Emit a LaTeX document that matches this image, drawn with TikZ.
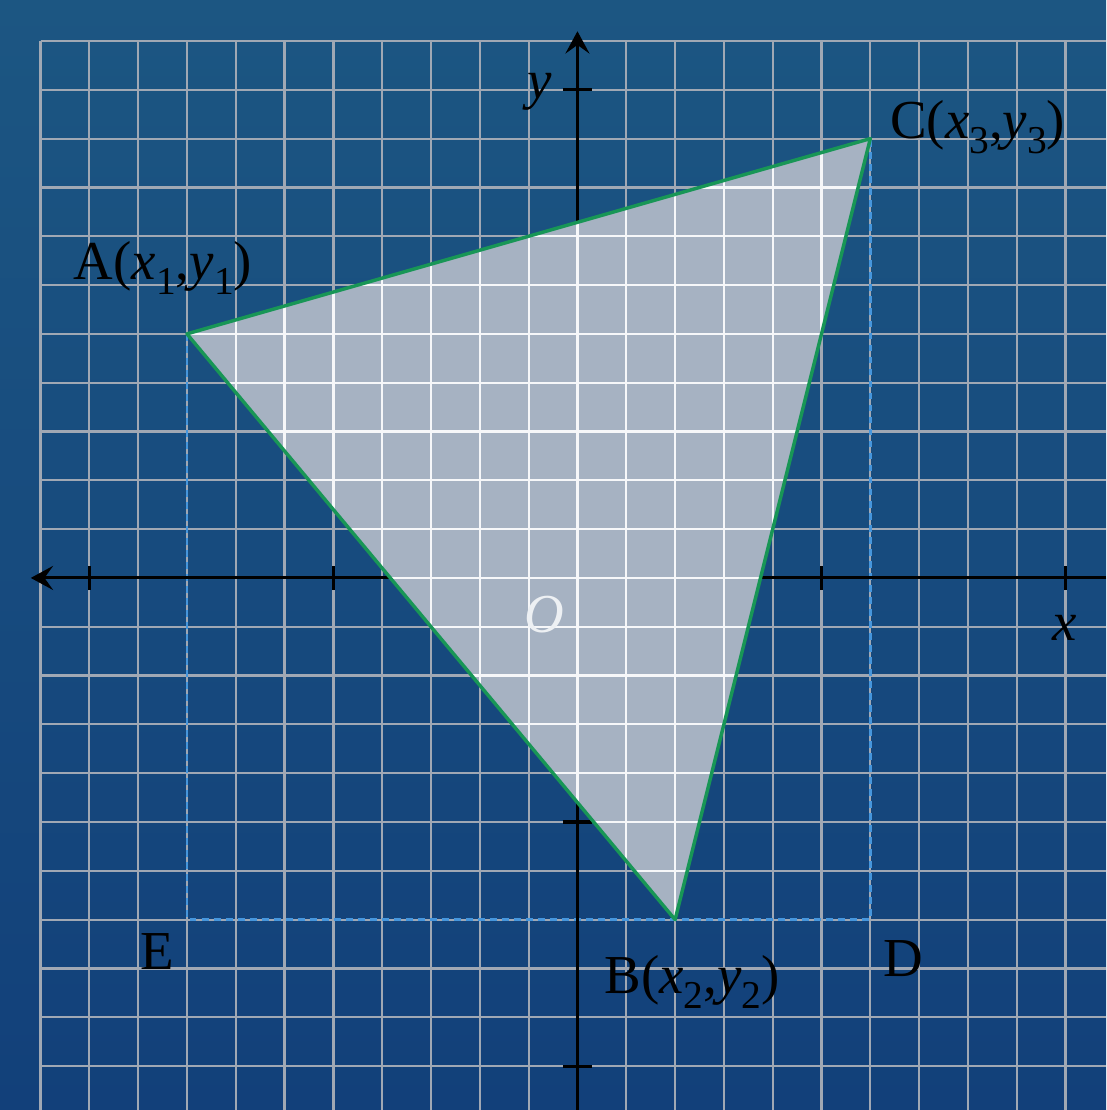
\documentclass[tikz,border=0pt]{standalone}
\usepackage{fontspec}
\setmainfont{Liberation Serif}
\usetikzlibrary{arrows.meta}

\definecolor{BoardBlueTop}{RGB}{28,86,130}
\definecolor{BoardBlueBottom}{RGB}{18,64,122}
\definecolor{GridGrey}{RGB}{160,168,180}
\definecolor{PaneGrey}{RGB}{166,178,194}
\definecolor{EdgeGreen}{RGB}{24,150,86}
\definecolor{GuideBlue}{RGB}{70,150,220}

% lowered subscript as printed on the board
\newcommand{\lowsub}[1]{\raisebox{-4.5pt}{\fontsize{11.5}{12}\selectfont #1}}

\begin{document}
\begin{tikzpicture}[x=0.5cm, y=0.5cm,
    gridline/.style={GridGrey, line width=0.65pt},
    paneline/.style={white!90!PaneGrey, line width=0.65pt},
    axisline/.style={black, line width=0.9pt},
    axisarrow/.style={axisline, -{Stealth[length=6.5pt, width=7pt, inset=2.5pt]}},
    guide/.style={GuideBlue, line width=0.8pt, dash pattern=on 2pt off 1.5pt},
    ptlabel/.style={font=\fontsize{16}{19}\selectfont, text=black, inner sep=0pt}]
                % Board
                \shade[top color=BoardBlueTop, bottom color=BoardBlueBottom] (-11.83,-10.90) rectangle (10.83,11.84);
                \useasboundingbox (-11.83,-10.90) rectangle (10.83,11.84);

                % Grid
                \foreach \gx in {-11,...,10} \draw[gridline] (\gx,-10.9) -- (\gx,11);
                \foreach \gy in {-10,...,11} \draw[gridline] (-11,\gy) -- (10.83,\gy);

                % Points
                \coordinate (A) at (-8,5);
                \coordinate (B) at (2,-7);
                \coordinate (C) at (6,9);
                \coordinate (D) at (6,-7);
                \coordinate (E) at (-8,-7);

                % Guide lines
                \draw[guide] (A) -- (E) -- (D) -- (C);

                % Axes
                \coordinate (xend) at (10.83,0);
                \coordinate (xtip) at (-11.2,0);
                \coordinate (yend) at (0,-10.9);
                \coordinate (ytip) at (0,11.2);
                \draw[axisarrow] (xend) -- (xtip);
                \draw[axisarrow] (yend) -- (ytip);
                \foreach \t in {-10,-5,5,10} {
                    \draw[axisline] (\t,-0.25) -- (\t,0.25);
                    \draw[axisline] (-0.3,\t) -- (0.3,\t);
                }

                % Triangle
                \fill[PaneGrey] (A) -- (B) -- (C) -- cycle;
                \begin{scope}
                    \clip (A) -- (B) -- (C) -- cycle;
                    \foreach \gx in {-11,...,10} \draw[paneline] (\gx,-10.9) -- (\gx,11);
                    \foreach \gy in {-10,...,11} \draw[paneline] (-11,\gy) -- (10.83,\gy);
                \end{scope}
                \draw[EdgeGreen, line width=1pt, line join=round] (A) -- (B) -- (C) -- cycle;

                % Labels
                \node[ptlabel] (labA) at (-8.49,6.35) {A(\textit{x}\lowsub{1},\textit{y}\lowsub{1})};
                \node[ptlabel] (labB) at (2.35,-8.28) {B(\textit{x}\lowsub{2},\textit{y}\lowsub{2})};
                \node[ptlabel] (labC) at (8.2,9.24) {C(\textit{x}\lowsub{3},\textit{y}\lowsub{3})};
                \node[ptlabel] (labD) at (6.67,-7.79) {D};
                \node[ptlabel] (labE) at (-8.6,-7.66) {E};
                \node[ptlabel] (labx) at (9.99,-1.02) {\textit{x}};
                \node[ptlabel] (laby) at (-0.77,9.96) {\textit{y}};
                \node[ptlabel, text=white!80!PaneGrey] (labO) at (-0.67,-0.76) {\textit{O}};
            \end{tikzpicture}
\end{document}
